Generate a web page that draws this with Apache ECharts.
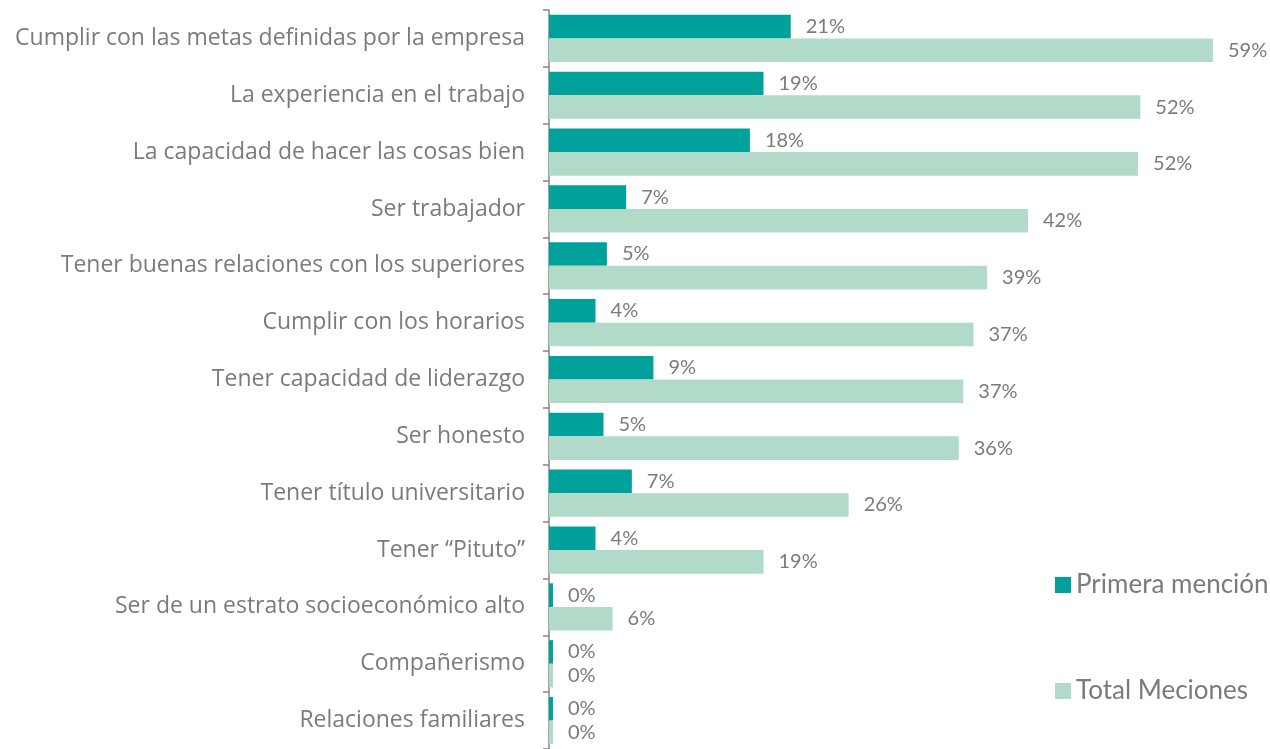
<!DOCTYPE html>
<html>
<head>
<meta charset="utf-8">
<script src="https://cdn.jsdelivr.net/npm/echarts@6/dist/echarts.min.js"></script>
<style>
  html, body { margin: 0; padding: 0; background: #fff; }
  #chart { width: 1270px; height: 749px; }
</style>
</head>
<body>
<div id="chart"></div>
<script>
// categorías (de arriba hacia abajo)
const categories = [
  'Cumplir con las metas definidas por la empresa',
  'La experiencia en el trabajo',
  'La capacidad de hacer las cosas bien',
  'Ser trabajador',
  'Tener buenas relaciones con los superiores',
  'Cumplir con los horarios',
  'Tener capacidad de liderazgo',
  'Ser honesto',
  'Tener título universitario',
  'Tener “Pituto”',
  'Ser de un estrato socioeconómico alto',
  'Compañerismo',
  'Relaciones familiares'
]
const primeraMencion = [21.3, 18.9, 17.7, 6.8, 5.1, 4.1, 9.2, 4.8, 7.3, 4.1, 0.35, 0.35, 0.35]
const totalMenciones = [58.5, 52.1, 51.9, 42.2, 38.6, 37.4, 36.5, 36.1, 26.4, 18.9, 5.6, 0.35, 0.35]

const textColor = '#7b7b7b'
const font = 'Lato'

const chart = echarts.init(document.getElementById('chart'))

const labelOpt = {
  show: true,
  position: 'right',
  distance: 15,
  color: textColor,
  fontFamily: font,
  fontSize: 20,
  formatter: p => Math.round(p.value) + '%'
}

chart.setOption({
  animation: false,
  textStyle: { fontFamily: font },
  legend: {
    orient: 'vertical',
    left: 1050,
    top: 567,
    itemWidth: 16,
    itemHeight: 16,
    itemGap: 80,
    icon: 'rect',
    textStyle: { color: textColor, fontSize: 26, fontFamily: font },
    data: ['Primera mención', 'Total Meciones']
  },
  grid: {
    left: 549,
    right: 40,
    top: 10,
    bottom: 0
  },
  xAxis: {
    type: 'value',
    min: 0,
    max: 60,
    show: false
  },
  yAxis: {
    type: 'category',
    inverse: true,
    data: categories,
    axisLine: { show: true, lineStyle: { color: '#858585', width: 1.5 } },
    axisTick: { show: true, length: 6, lineStyle: { color: '#858585', width: 1.5 } },
    axisLabel: { color: textColor, fontSize: 23, fontFamily: 'Open Sans', margin: 24 }
  },
  series: [
    {
      name: 'Primera mención',
      type: 'bar',
      data: primeraMencion,
      barGap: 0,
      barCategoryGap: '17%',
      itemStyle: { color: '#00a19a' },
      label: labelOpt
    },
    {
      name: 'Total Meciones',
      type: 'bar',
      data: totalMenciones,
      itemStyle: { color: '#b1dbc8' },
      label: labelOpt
    }
  ]
})
</script>
</body>
</html>
